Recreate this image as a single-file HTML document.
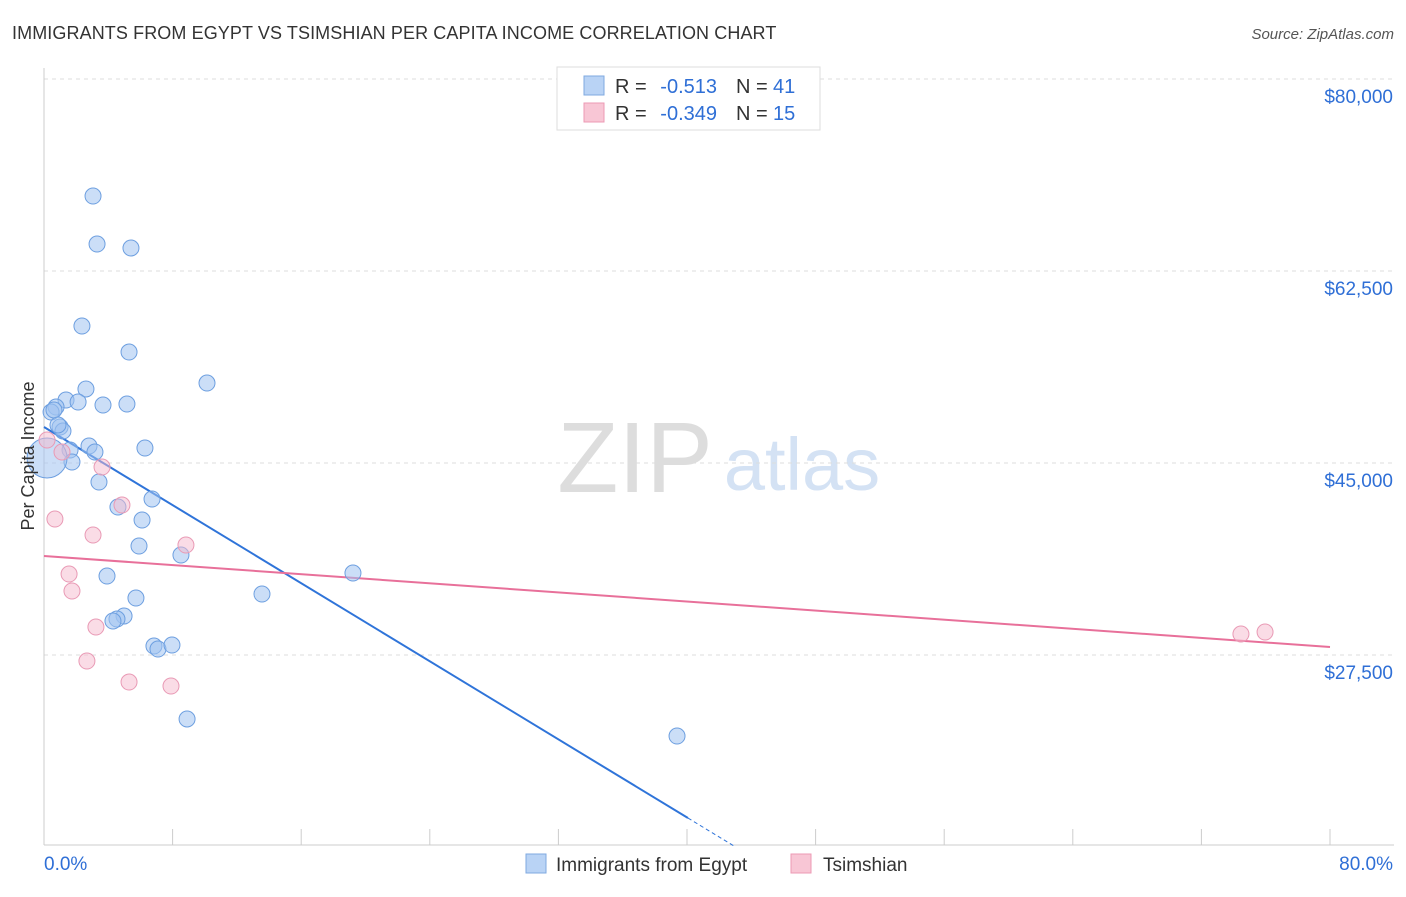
<!DOCTYPE html>
<html><head><meta charset="utf-8"><style>
body{margin:0;background:#fff;font-family:"Liberation Sans",sans-serif}
svg text{font-family:"Liberation Sans",sans-serif}
</style></head><body>
<svg id="chart" width="1406" height="892">
<text x="12" y="39" font-size="18" fill="#333" letter-spacing="0.1">IMMIGRANTS FROM EGYPT VS TSIMSHIAN PER CAPITA INCOME CORRELATION CHART</text>
<text x="1394" y="39" font-size="15" fill="#555" font-style="italic" text-anchor="end">Source: ZipAtlas.com</text>
<g><text x="635" y="492" font-size="100" fill="#ddd" font-family="Liberation Serif" text-anchor="middle">ZIP</text><text x="802" y="490" font-size="74" fill="#d4e2f4" text-anchor="middle">atlas</text></g>
<g id="grid"></g><g id="axes"></g><g id="lines"></g><g id="pts"></g>
<text transform="translate(34,456) rotate(-90)" font-size="18" fill="#333" text-anchor="middle">Per Capita Income</text>
<g>
<rect x="557" y="67" width="263" height="63" fill="#fff" stroke="#ddd"/>
<rect x="584" y="76" width="20" height="19" fill="#b9d3f5" stroke="#7fa9e0"/>
<rect x="584" y="103" width="20" height="19" fill="#f8c6d5" stroke="#ec9ab4"/>
<text x="615" y="93" font-size="20" fill="#333">R =</text>
<text x="717" y="93" font-size="20" fill="#2f6fd6" text-anchor="end">-0.513</text>
<text x="736" y="93" font-size="20" fill="#333">N =</text>
<text x="773" y="93" font-size="20" fill="#2f6fd6">41</text>
<text x="615" y="120" font-size="20" fill="#333">R =</text>
<text x="717" y="120" font-size="20" fill="#2f6fd6" text-anchor="end">-0.349</text>
<text x="736" y="120" font-size="20" fill="#333">N =</text>
<text x="773" y="120" font-size="20" fill="#2f6fd6">15</text>
</g>
<g>
<rect x="526" y="854" width="20" height="19" fill="#b9d3f5" stroke="#7fa9e0"/>
<text x="556" y="871" font-size="19" fill="#333">Immigrants from Egypt</text>
<rect x="791" y="854" width="20" height="19" fill="#f8c6d5" stroke="#ec9ab4"/>
<text x="823" y="871" font-size="19" fill="#333">Tsimshian</text>
</g>
<text x="44" y="870" font-size="19" fill="#2f6fd6">0.0%</text>
<text x="1393" y="870" font-size="19" fill="#2f6fd6" text-anchor="end">80.0%</text>
</svg>
<script>
const blueX=[3.05,3.30,5.41,2.36,5.29,10.14,2.61,1.37,2.12,3.67,5.16,0.75,0.44,1.00,1.18,2.80,6.28,3.17,1.62,1.74,3.42,6.72,4.60,6.10,5.91,8.52,3.92,19.22,5.72,13.56,4.98,4.54,4.29,6.84,7.09,7.96,8.90,39.38,0.62,0.87];
const blueY=[69335,64960,64596,57486,55116,52290,51744,50741,50559,50285,50376,50103,49647,48280,47915,46548,46366,46000,46183,45090,43267,41717,40988,39803,37433,36613,34699,34972,32693,33058,31053,30779,30597,28318,28045,28410,21666,20115,49830,48463];
const pinkX=[0.19,1.12,3.61,4.85,0.68,3.05,8.83,1.56,1.74,3.23,2.67,5.29,7.90,74.46,75.96];
const pinkY=[47095,46000,44633,41170,39894,38436,37524,34881,33332,30050,26951,25037,24672,29412,29594];
const bigX=[0.19], bigY=[45455];
const yTicks=[80000,62500,45000,27500];
const yTickLabels=["$80,000","$62,500","$45,000","$27,500"];
const xTicks=[0,8,16,24,32,40,48,56,64,72,80];
const blueLine=[48280,12640], blueLineX=[0,40.06], blueDashEnd=[43];
const pinkLine=[36524,28229];
const sx=v=>44+v/80*1286, sy=v=>79+(80000-v)/17500*192;
const NS="http://www.w3.org/2000/svg";
function mk(p,t,a){const e=document.createElementNS(NS,t);for(const k in a)e.setAttribute(k,a[k]);document.getElementById(p).appendChild(e);return e;}
yTicks.forEach((v,i)=>{
 const l=mk('grid','line',{x1:44,x2:1394,y1:sy(v),y2:sy(v),stroke:'#ddd','stroke-dasharray':'4,4'});
 
 
 const t=mk('grid','text',{x:1393,y:sy(v)+24,'font-size':19,fill:'#2f6fd6','text-anchor':'end'});
 t.textContent=yTickLabels[i];
 
 
});
const ax=mk('axes','line',{x1:44,x2:44,y1:68,y2:845,stroke:'#ccc'});


const bx=mk('axes','line',{x1:44,x2:1394,y1:845,y2:845,stroke:'#ccc'});


xTicks.forEach(v=>{
 const t=mk('axes','line',{x1:sx(v),x2:sx(v),y1:829,y2:845,stroke:'#ccc'});
 
 
});
const bs=(blueLine[1]-blueLine[0])/(blueLineX[1]-blueLineX[0]);
const bl=mk('lines','line',{x1:sx(0),y1:sy(blueLine[0]),x2:sx(blueLineX[1]),y2:sy(blueLine[1]),stroke:'#2f74d9','stroke-width':2});


const bd=mk('lines','line',{x1:sx(blueLineX[1]),y1:sy(blueLine[1]),x2:sx(blueDashEnd[0]),y2:sy(blueLine[0]+bs*blueDashEnd[0]),stroke:'#2f74d9','stroke-width':1,'stroke-dasharray':'4,3'});


const pl=mk('lines','line',{x1:sx(0),y1:sy(pinkLine[0]),x2:sx(80),y2:sy(pinkLine[1]),stroke:'#e8709a','stroke-width':2});


blueX.forEach((x,i)=>{
 const c=mk('pts','circle',{cx:sx(x),cy:sy(blueY[i]),r:8,fill:'rgba(160,195,240,0.55)',stroke:'#6d9fe0'});
 
 
});
bigX.forEach((x,i)=>{
 const c=mk('pts','circle',{cx:sx(x),cy:sy(bigY[i]),r:20,fill:'rgba(160,195,240,0.55)',stroke:'#6d9fe0'});
 
 
});
pinkX.forEach((x,i)=>{
 const c=mk('pts','circle',{cx:sx(x),cy:sy(pinkY[i]),r:8,fill:'rgba(246,185,205,0.5)',stroke:'#e99ab5'});
 
 
});
</script>
</body></html>
